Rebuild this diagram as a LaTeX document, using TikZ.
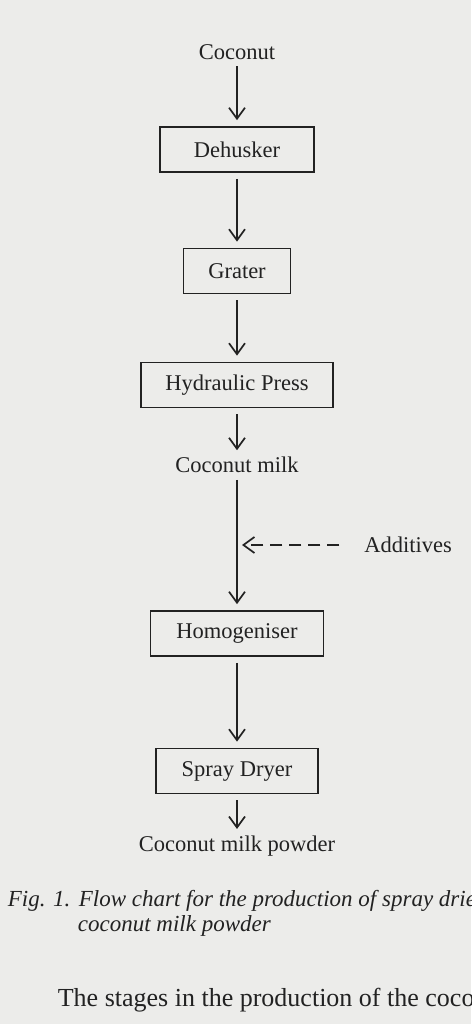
\documentclass[tikz,border=0pt]{standalone}
\usepackage{fontspec}
\setmainfont{Liberation Serif}
\usetikzlibrary{positioning, arrows.meta}

\definecolor{paper}{RGB}{236,236,234}
\definecolor{ink}{RGB}{34,34,34}

\begin{document}
\begin{tikzpicture}[x=1pt, y=1pt, on grid, color=ink, line width=1.7pt,
  font=\fontsize{22.5}{27}\selectfont,
  process/.style={draw, minimum height=45pt, inner sep=0pt},
  product/.style={inner sep=0pt},
  flow/.style={-{Straight Barb[length=11pt, width=16pt]}, shorten <=6pt, shorten >=6pt},
  caption/.style={inner sep=0pt, anchor=base west, font=\fontsize{23}{25}\selectfont\itshape}]

  \fill[paper] (0,0) rectangle (471,1024);
  \useasboundingbox (0,0) rectangle (471,1024);
  \clip (0,0) rectangle (471,1024);

  % stages of the flow chart
  \node[product] (coconut) at (237,972) {Coconut};
  \node[process, minimum width=154pt, below=97.5pt of coconut] (dehusker) {Dehusker};
  \node[process, minimum width=107pt, below=121.5pt of dehusker] (grater) {Grater};
  \node[process, minimum width=192pt, below=114pt of grater] (press) {Hydraulic Press};
  \node[product, below=80pt of press] (milk) {Coconut milk};
  \node[process, minimum width=173pt, below=168.5pt of milk] (homogeniser) {Homogeniser};
  \node[process, minimum width=162pt, below=137.5pt of homogeniser] (dryer) {Spray Dryer};
  \node[product, below=75pt of dryer] (powder) {Coconut milk powder};

  \coordinate (mix) at (237,479);
  \node[product] (additives) at (408,479) {Additives};

  \path[flow] (coconut) edge (dehusker);
  \path[flow] (dehusker) edge (grater);
  \path[flow] (grater) edge (press);
  \path[flow] (press) edge (milk);
  \path[flow] (milk) edge (homogeniser);
  \path[flow] (homogeniser) edge (dryer);
  \path[flow] (dryer) edge (powder);
  \draw[flow, dash pattern=on 12pt off 7pt, shorten <=24pt, shorten >=5pt] (additives) -- (mix);

  % caption and running text
  \node[caption] (fig) at (7,117) {Fig. 1.};
  \node[caption] (title) at (78,117) {Flow chart for the production of spray drie};
  \node[caption] (title2) at (77,92) {coconut milk powder};
  \node[inner sep=0pt, anchor=base west, font=\fontsize{26}{30}\selectfont] (body) at (57,17) {The stages in the production of the coco};

\end{tikzpicture}
\end{document}
